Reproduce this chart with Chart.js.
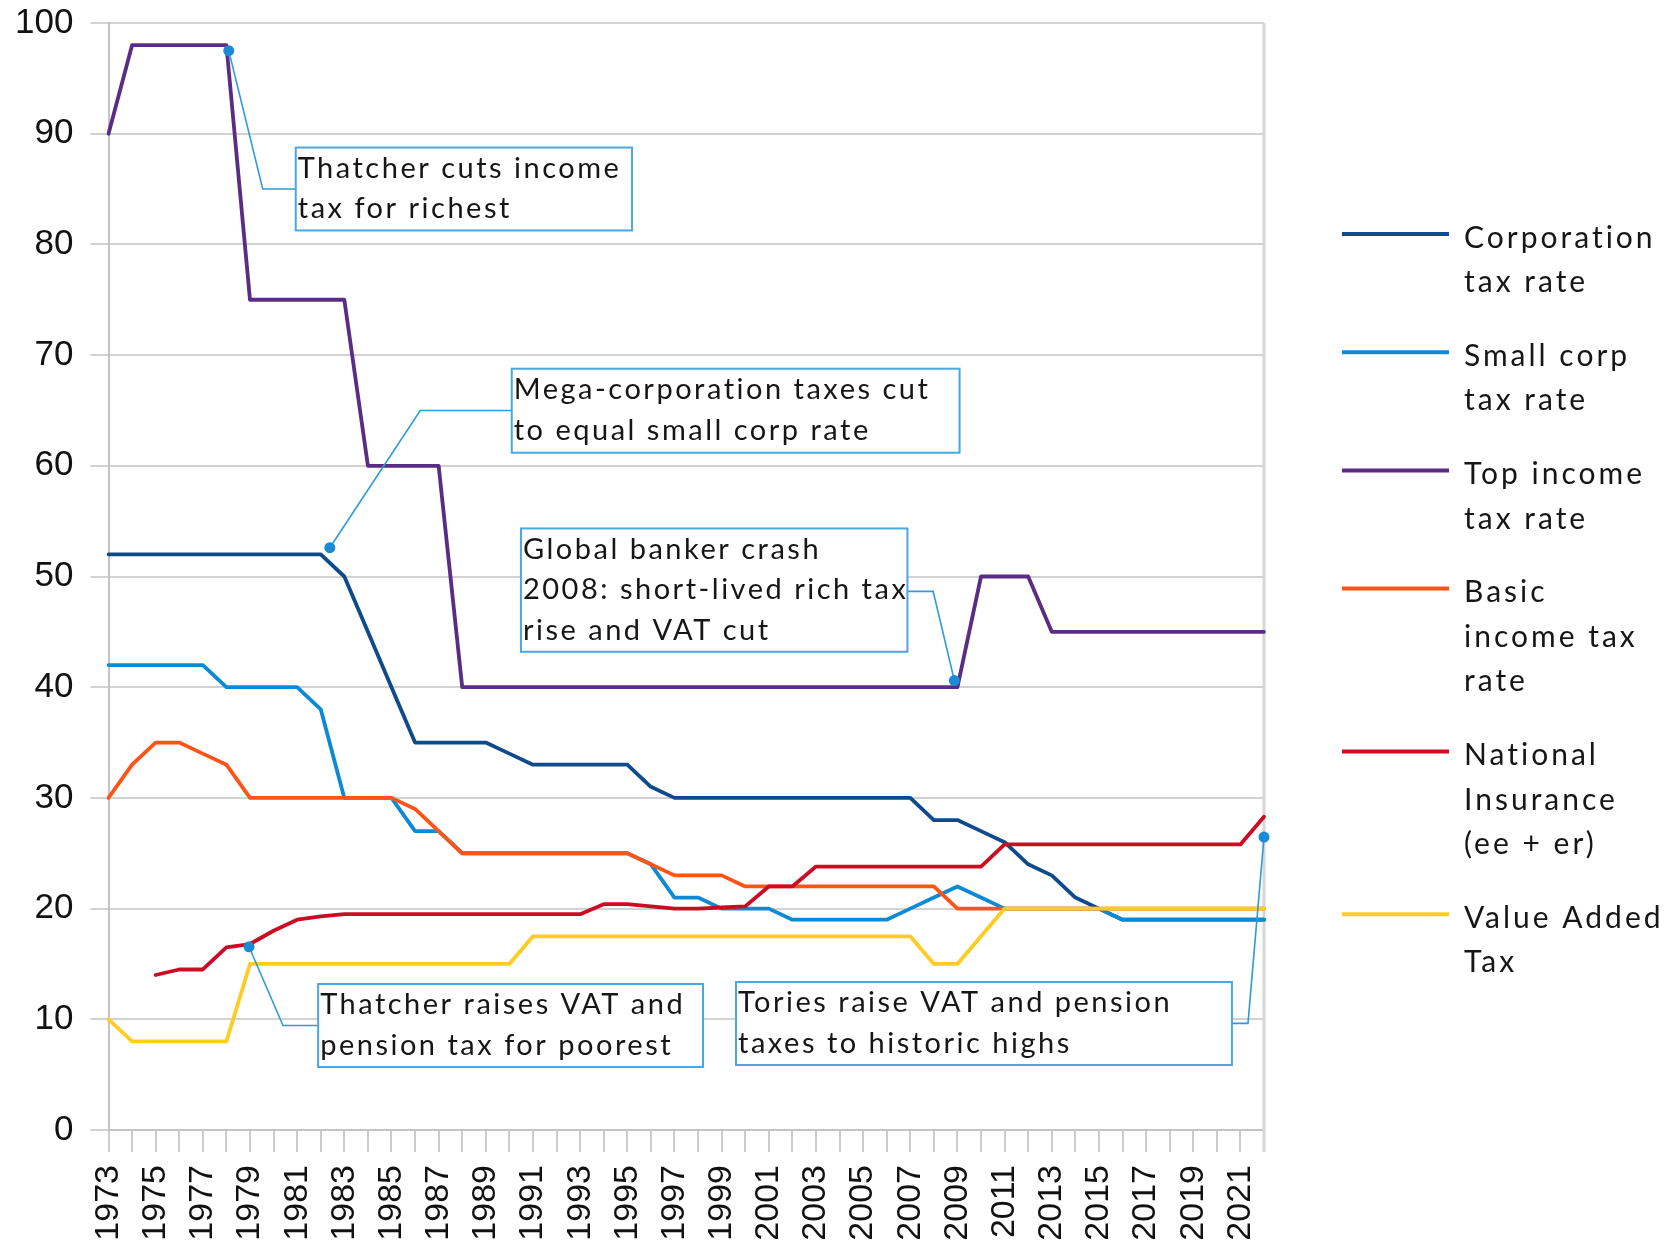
<!DOCTYPE html>
<html>
<head>
<meta charset="utf-8">
<title>UK tax rates 1973–2022</title>
<script src="https://cdn.jsdelivr.net/npm/chart.js@4.4.1/dist/chart.umd.min.js"></script>
<style>
  html, body { margin: 0; padding: 0; background: #ffffff; }
  canvas { display: block; }
</style>
</head>
<body>
<canvas id="chart" width="1668" height="1246"></canvas>
<script>
// Years on the category axis
const years = [
  1973, 1974, 1975, 1976, 1977, 1978, 1979, 1980, 1981, 1982,
  1983, 1984, 1985, 1986, 1987, 1988, 1989, 1990, 1991, 1992,
  1993, 1994, 1995, 1996, 1997, 1998, 1999, 2000, 2001, 2002,
  2003, 2004, 2005, 2006, 2007, 2008, 2009, 2010, 2011, 2012,
  2013, 2014, 2015, 2016, 2017, 2018, 2019, 2020, 2021, 2022
];

// Rates in percent, one value per year
const corporationTax = [
  52, 52, 52, 52, 52, 52, 52, 52, 52, 52,
  50, 45, 40, 35, 35, 35, 35, 34, 33, 33,
  33, 33, 33, 31, 30, 30, 30, 30, 30, 30,
  30, 30, 30, 30, 30, 28, 28, 27, 26, 24,
  23, 21, 20, 19, 19, 19, 19, 19, 19, 19
];
const smallCorpTax = [
  42, 42, 42, 42, 42, 40, 40, 40, 40, 38,
  30, 30, 30, 27, 27, 25, 25, 25, 25, 25,
  25, 25, 25, 24, 21, 21, 20, 20, 20, 19,
  19, 19, 19, 19, 20, 21, 22, 21, 20, 20,
  20, 20, 20, 19, 19, 19, 19, 19, 19, 19
];
const topIncomeTax = [
  90, 98, 98, 98, 98, 98, 75, 75, 75, 75,
  75, 60, 60, 60, 60, 40, 40, 40, 40, 40,
  40, 40, 40, 40, 40, 40, 40, 40, 40, 40,
  40, 40, 40, 40, 40, 40, 40, 50, 50, 50,
  45, 45, 45, 45, 45, 45, 45, 45, 45, 45
];
const basicIncomeTax = [
  30, 33, 35, 35, 34, 33, 30, 30, 30, 30,
  30, 30, 30, 29, 27, 25, 25, 25, 25, 25,
  25, 25, 25, 24, 23, 23, 23, 22, 22, 22,
  22, 22, 22, 22, 22, 22, 20, 20, 20, 20,
  20, 20, 20, 20, 20, 20, 20, 20, 20, 20
];
const nationalInsurance = [
  null, null, 14, 14.5, 14.5, 16.5, 16.8, 18, 19, 19.3,
  19.5, 19.5, 19.5, 19.5, 19.5, 19.5, 19.5, 19.5, 19.5, 19.5,
  19.5, 20.4, 20.4, 20.2, 20, 20, 20.1, 20.2, 22, 22,
  23.8, 23.8, 23.8, 23.8, 23.8, 23.8, 23.8, 23.8, 25.8, 25.8,
  25.8, 25.8, 25.8, 25.8, 25.8, 25.8, 25.8, 25.8, 25.8, 28.3
];
const valueAddedTax = [
  10, 8, 8, 8, 8, 8, 15, 15, 15, 15,
  15, 15, 15, 15, 15, 15, 15, 15, 17.5, 17.5,
  17.5, 17.5, 17.5, 17.5, 17.5, 17.5, 17.5, 17.5, 17.5, 17.5,
  17.5, 17.5, 17.5, 17.5, 17.5, 15, 15, 17.5, 20, 20,
  20, 20, 20, 20, 20, 20, 20, 20, 20, 20
];

// Series names (legend lines) and colours
const seriesNames = [
  ['Corporation', 'tax rate'],
  ['Small corp', 'tax rate'],
  ['Top income', 'tax rate'],
  ['Basic', 'income tax', 'rate'],
  ['National', 'Insurance', '(ee + er)'],
  ['Value Added', 'Tax']
];
const seriesColors = ['#0f4a8a', '#0d8ad6', '#5a2c84', '#ff5418', '#cc0c23', '#ffcc1f'];
const seriesValues = [corporationTax, smallCorpTax, topIncomeTax, basicIncomeTax, nationalInsurance, valueAddedTax];

// Call-out notes: anchor point (year index, rate), elbow, box corners in axis units
const notes = [
  { lines: ['Thatcher cuts income', 'tax for richest'],
    anchor: [5.1, 97.5], elbow: [6.54, 85.0], side: 'left',
    box: [7.94, 88.75, 22.2, 81.26] },
  { lines: ['Mega-corporation taxes cut', 'to equal small corp rate'],
    anchor: [9.385, 52.6], elbow: [13.22, 65.0], side: 'left',
    box: [17.1, 68.77, 36.09, 61.18] },
  { lines: ['Global banker crash', '2008: short-lived rich tax', 'rise and VAT cut'],
    anchor: [35.87, 40.6], elbow: [34.97, 48.66], side: 'right',
    box: [17.49, 54.34, 33.88, 43.2] },
  { lines: ['Thatcher raises VAT and', 'pension tax for poorest'],
    anchor: [5.96, 16.55], elbow: [7.4, 9.44], side: 'left',
    box: [8.89, 13.19, 25.21, 5.69] },
  { lines: ['Tories raise VAT and pension', 'taxes to historic highs'],
    anchor: [49.0, 26.46], elbow: [48.32, 9.63], side: 'right',
    box: [26.61, 13.37, 47.64, 5.87] }
];

const calloutPlugin = {
  id: 'callouts',
  afterDatasetsDraw(chart) {
    const { ctx, scales: { x, y } } = chart;
    ctx.save();
    for (const n of notes) {
      const bx0 = x.getPixelForValue(n.box[0]);
      const by0 = y.getPixelForValue(n.box[1]);
      const bx1 = x.getPixelForValue(n.box[2]);
      const by1 = y.getPixelForValue(n.box[3]);
      const ax = x.getPixelForValue(n.anchor[0]);
      const ay = y.getPixelForValue(n.anchor[1]);
      const ex = x.getPixelForValue(n.elbow[0]);
      const ey = y.getPixelForValue(n.elbow[1]);
      const edgeX = n.side === 'left' ? bx0 : bx1;

      // leader line
      ctx.strokeStyle = '#2e9bd9';
      ctx.lineWidth = 1.6;
      ctx.beginPath();
      ctx.moveTo(ax, ay);
      ctx.lineTo(ex, ey);
      ctx.lineTo(edgeX, ey);
      ctx.stroke();

      // box
      ctx.fillStyle = '#ffffff';
      ctx.fillRect(bx0, by0, bx1 - bx0, by1 - by0);
      ctx.strokeStyle = '#4aa7e0';
      ctx.lineWidth = 2;
      ctx.strokeRect(bx0, by0, bx1 - bx0, by1 - by0);

      // text
      ctx.fillStyle = '#161616';
      ctx.font = '29px Lato, "Open Sans", sans-serif';
      ctx.letterSpacing = '2.5px';
      ctx.textAlign = 'left';
      ctx.textBaseline = 'middle';
      n.lines.forEach((t, i) => ctx.fillText(t, bx0 + 2, by0 + 21 + i * 40.5));
      ctx.letterSpacing = '0px';

      // anchor dot
      ctx.fillStyle = '#1a8bd6';
      ctx.beginPath();
      ctx.arc(ax, ay, 5.5, 0, Math.PI * 2);
      ctx.fill();
    }
    ctx.restore();
  }
};

const framePlugin = {
  id: 'frame',
  beforeDatasetsDraw(chart) {
    const { ctx, chartArea: a } = chart;
    ctx.save();
    ctx.strokeStyle = '#d6d6d6';
    ctx.lineWidth = 3;
    ctx.beginPath();
    ctx.moveTo(a.right, a.top);
    ctx.lineTo(a.right, a.bottom + 22);
    ctx.stroke();
    ctx.restore();
  }
};

const legendPlugin = {
  id: 'sideLegend',
  afterDraw(chart) {
    const { ctx } = chart;
    ctx.save();
    ctx.font = '30px Lato, "Open Sans", sans-serif';
    ctx.letterSpacing = '3px';
    ctx.textAlign = 'left';
    ctx.textBaseline = 'middle';
    let yy = 234;
    seriesNames.forEach((lines, i) => {
      ctx.strokeStyle = seriesColors[i];
      ctx.lineWidth = 4;
      ctx.beginPath();
      ctx.moveTo(1342, yy);
      ctx.lineTo(1449, yy);
      ctx.stroke();
      ctx.fillStyle = '#161616';
      lines.forEach((t, k) => ctx.fillText(t, 1464, yy + 4 + k * 44.6));
      yy += lines.length * 44.6 + 29;
    });
    ctx.restore();
  }
};

const tickFamily = '"Liberation Sans", Arial, sans-serif';

new Chart(document.getElementById('chart'), {
  type: 'line',
  data: {
    labels: years.map(String),
    datasets: seriesValues.map((vals, i) => ({
      label: seriesNames[i].join(' '),
      data: vals,
      borderColor: seriesColors[i],
      backgroundColor: seriesColors[i],
      order: seriesValues.length - i
    }))
  },
  options: {
    responsive: false,
    animation: false,
    layout: { padding: { top: 23, right: 404, bottom: 0, left: 0 } },
    plugins: { legend: { display: false }, tooltip: { enabled: false } },
    elements: {
      point: { radius: 0, hoverRadius: 0 },
      line: { tension: 0, borderWidth: 3.8, borderJoinStyle: 'round', borderCapStyle: 'round' }
    },
    scales: {
      x: {
        offset: false,
        grid: { display: true, drawOnChartArea: false, drawTicks: true, tickLength: 22, color: '#cccccc', lineWidth: 2 },
        border: { display: true, color: '#c4c4c4', width: 2 },
        ticks: {
          autoSkip: false, maxRotation: 90, minRotation: 90, padding: 13,
          color: '#111111', font: { family: tickFamily, size: 34 },
          callback: (v, i) => (i % 2 === 0 ? String(years[i]) : '')
        },
        afterFit: s => { s.height = 116; }
      },
      y: {
        min: 0, max: 100,
        ticks: { stepSize: 10, padding: 17, color: '#111111', font: { family: tickFamily, size: 35, lineHeight: 0.3 } },
        grid: { color: '#d2d2d2', lineWidth: 2, tickLength: 18 },
        border: { display: true, color: '#c4c4c4', width: 2 },
        afterFit: s => { s.width = 108.5; }
      }
    }
  },
  plugins: [framePlugin, calloutPlugin, legendPlugin]
});
</script>
</body>
</html>
